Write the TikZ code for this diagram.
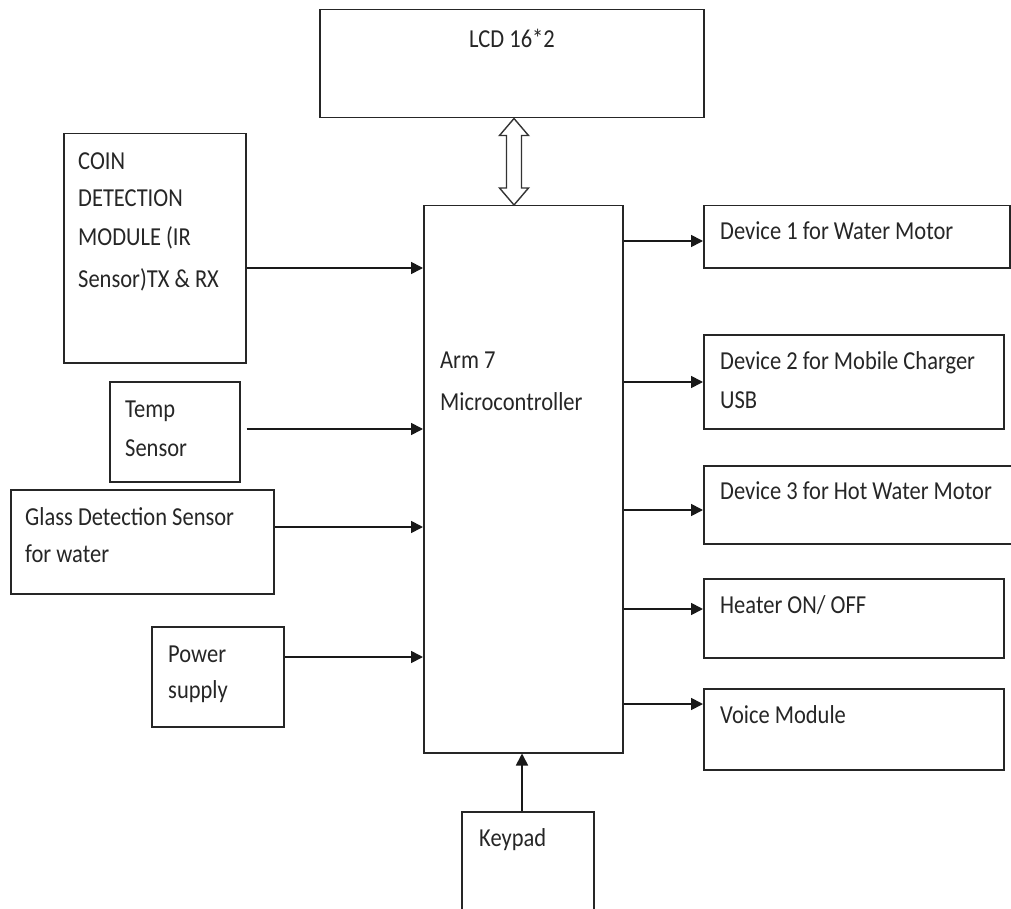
\documentclass[tikz,border=0pt]{standalone}
\usepackage{fontspec}
\usepackage{graphicx}
\setmainfont{Carlito}
\usetikzlibrary{arrows.meta,calc}
\newcommand{\st}[1]{\scalebox{1}[1.15]{#1}}
\begin{document}
\begin{tikzpicture}[x=1pt,y=-1pt,
  box/.style={draw, line width=1.5pt, rectangle, anchor=north west, inner sep=0pt, color=black!85},
  txt/.style={inner sep=0pt, anchor=base west, font=\fontsize{22.5}{27}\selectfont, text=black!85},
  arr/.style={line width=1.7pt, draw=black!90, -{Triangle[length=12pt,width=12pt]}}]
\useasboundingbox (0,0) rectangle (1011,909);
\clip (0,0) rectangle (1011,909);
\fill[white] (0,0) rectangle (1011,909);
% boxes
\node[box, minimum width=384pt, minimum height=108pt] (lcd) at (319,9) {};
\node[box, minimum width=182pt, minimum height=229pt] (coin) at (63,133) {};
\node[box, minimum width=130pt, minimum height=100pt] (temp) at (109,381) {};
\node[box, minimum width=263pt, minimum height=104pt] (glass) at (10,489) {};
\node[box, minimum width=132pt, minimum height=100pt] (power) at (151,626) {};
\node[box, minimum width=199pt, minimum height=547pt] (mc) at (423,205) {};
\node[box, minimum width=306pt, minimum height=62pt] (d1) at (703,205) {};
\node[box, minimum width=300pt, minimum height=94pt] (d2) at (703,334) {};
\node[box, minimum width=330pt, minimum height=78pt] (d3) at (703,465) {};
\node[box, minimum width=300pt, minimum height=79pt] (heater) at (703,578) {};
\node[box, minimum width=300pt, minimum height=81pt] (voice) at (703,688) {};
\node[box, minimum width=132pt, minimum height=130pt] (keypad) at (461,811) {};
% texts
\node[txt, anchor=base] (tlcd) at (512,48) {\st{LCD 16*2}};
\node[txt] (tcoin1) at (78,170) {\st{COIN}};
\node[txt] (tcoin2) at (78,207) {\st{DETECTION}};
\node[txt] (tcoin3) at (78,246) {\st{MODULE (IR}};
\node[txt] (tcoin4) at (78,287) {\st{Sensor)TX \& RX}};
\node[txt] (ttemp1) at (125,417) {\st{Temp}};
\node[txt] (ttemp2) at (125,456) {\st{Sensor}};
\node[txt] (tglass1) at (25,525) {\st{Glass Detection Sensor}};
\node[txt] (tglass2) at (25,562) {\st{for water}};
\node[txt] (tpow1) at (168,662) {\st{Power}};
\node[txt] (tpow2) at (168,698) {\st{supply}};
\node[txt] (tmc1) at (440,368) {\st{Arm 7}};
\node[txt] (tmc2) at (440,410) {\st{Microcontroller}};
\node[txt] (td1) at (720,240) {\st{Device 1 for Water Motor}};
\node[txt] (td2a) at (720,369) {\st{Device 2 for Mobile Charger}};
\node[txt] (td2b) at (720,408) {\st{USB}};
\node[txt] (td3) at (720,499) {\st{Device 3 for Hot Water Motor}};
\node[txt] (theat) at (720,613) {\st{Heater ON/ OFF}};
\node[txt] (tvoice) at (720,723) {\st{Voice Module}};
\node[txt] (tkey) at (479,846) {\st{Keypad}};
% double arrow between LCD and microcontroller
\coordinate (dtop) at (lcd.south -| 514,0);
\coordinate (dbot) at (mc.north -| 514,0);
\draw[line width=1.4pt, draw=black!80, fill=white, line join=miter]
  (dtop) -- ++(14.5,17) -- ++(-7,0) -- ($(dbot)+(7.5,-17)$) -- ++(7,0) -- (dbot)
  -- ++(-14.5,-17) -- ++(7,0) -- ($(dtop)+(-7.5,17)$) -- ++(-7,0) -- cycle;
% input arrows
\draw[arr] (coin.east |- 0,268) -- (mc.west |- 0,268);
\draw[arr, shorten <=6pt] (temp.east |- 0,429) -- (mc.west |- 0,429);
\draw[arr] (glass.east |- 0,527) -- (mc.west |- 0,527);
\draw[arr] (power.east |- 0,657) -- (mc.west |- 0,657);
% output arrows
\draw[arr] (mc.east |- 0,241) -- (d1.west |- 0,241);
\draw[arr] (mc.east |- 0,382) -- (d2.west |- 0,382);
\draw[arr] (mc.east |- 0,510) -- (d3.west |- 0,510);
\draw[arr] (mc.east |- 0,609) -- (heater.west |- 0,609);
\draw[arr] (mc.east |- 0,704) -- (voice.west |- 0,704);
% keypad arrow
\draw[arr] (keypad.north -| 522,0) -- (mc.south -| 522,0);
\end{tikzpicture}
\end{document}
